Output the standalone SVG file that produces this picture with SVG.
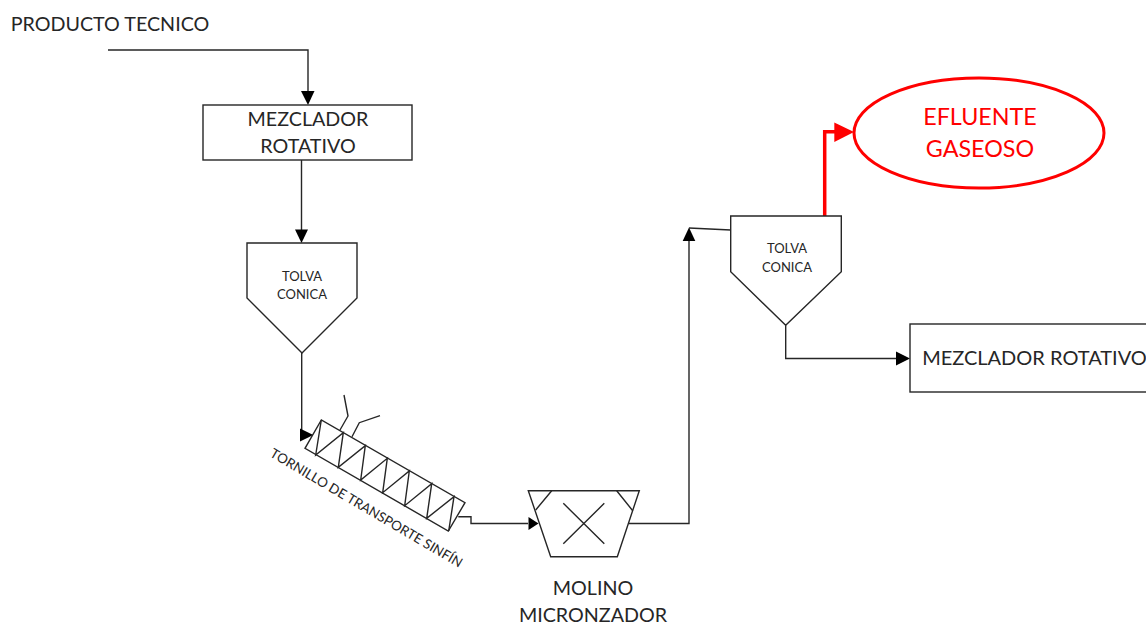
<svg xmlns="http://www.w3.org/2000/svg" width="1146" height="625" viewBox="0 0 1146 625">
<style>
text{font-family:"Lato","Carlito","Liberation Sans",sans-serif;fill:#262626;text-anchor:middle}
.s{fill:#fff;stroke:#262626;stroke-width:1.4}
.t{fill:none;stroke:#262626;stroke-width:1.4}
.c{fill:none;stroke:#262626;stroke-width:1.4}
.l{font-size:19.700px}
.e{font-size:23.300px;fill:#f00}
.m{font-size:13px}
.h{fill:#000;stroke:none}
</style>
<rect width="1146" height="625" fill="#fff"/>
<g id="connectors">
<path class="c" d="M108 50H308V92"/>
<path class="c" d="M301.500 160V230"/>
<path class="c" d="M301.700 353V435H301"/>
<path class="c" d="M458.300 516.700H471V523.500H528"/>
<path class="c" d="M628.700 523.500H689V240"/>
<path class="c" d="M689 228L730.700 230"/>
<path class="c" d="M785.700 325.300V358.500H897"/>
<path d="M824.700 217V131.700H836" fill="none" stroke="#f00" stroke-width="3.500"/>
<polygon class="h" points="301,91 314.500,91 308,105"/>
<polygon class="h" points="295,229.500 308,229.500 301.500,243"/>
<polygon class="h" points="300,428.500 313.300,435 300,441.500"/>
<polygon class="h" points="528.500,517 538.500,523.500 528.500,530"/>
<polygon class="h" points="682.700,241 695.300,241 689,227.500"/>
<polygon class="h" points="896,351.500 910,358.500 896,365.500"/>
<polygon points="834.300,122.500 854,132 834.300,142" fill="#f00"/>
</g>
<g id="producto-tecnico"><text class="l" x="110" y="31">PRODUCTO TECNICO</text></g>
<g id="mezclador-1"><rect class="s" x="203" y="105" width="209" height="55"/><text class="l" x="308" y="126">MEZCLADOR</text><text class="l" x="308" y="153">ROTATIVO</text></g>
<g id="tolva-1"><polygon class="s" points="247,243 357,243 357,298 302,353 247,298"/><text class="m" x="302" y="281">TOLVA</text><text class="m" x="302" y="299">CONICA</text></g>
<g id="tornillo">
<polygon class="s" points="321.300,420 305,448.300 448.300,531 465,502.700"/>
<path class="t" d="M321.300 420L315.700 455L343.300 432.700L338.300 467.300L365.300 445.700L360.700 480L387.300 458.300L382.700 492.700L409.300 471L404.700 505.700L431.700 483.700L426.700 518.300L454 496.700L448.700 531"/>
<path class="t" d="M340 430L348 416L344 395M352 436.700L359.300 422.700L380 415.700"/>
<text x="0" y="0" font-size="13.400" transform="translate(364 512) rotate(30.500)">TORNILLO DE TRANSPORTE SINFÍN</text>
</g>
<g id="molino">
<polygon class="s" points="528.300,490.700 639.300,490.700 617.300,556.700 550.700,556.700"/>
<path class="t" d="M551.700 490.700L535.700 510M616.700 490.700L632.700 510.700M563.300 503.300L604.300 543.700M604.300 503.300L563.300 543.700"/>
<text class="l" x="593" y="595">MOLINO</text><text class="l" x="593" y="622">MICRONZADOR</text>
</g>
<g id="tolva-2"><polygon class="s" points="730.700,216 841.300,216 841.300,271.700 785.700,325.300 730.700,271.700"/><text class="m" x="787" y="253">TOLVA</text><text class="m" x="787" y="272">CONICA</text></g>
<g id="efluente"><ellipse cx="979" cy="133" rx="125" ry="55" fill="#fff" stroke="#f00" stroke-width="3"/><text class="e" x="980" y="125">EFLUENTE</text><text class="e" x="980" y="157">GASEOSO</text></g>
<g id="mezclador-2"><rect class="s" x="910" y="324" width="245" height="68"/><text x="1034.500" y="365" font-size="20">MEZCLADOR ROTATIVO</text></g>
</svg>
